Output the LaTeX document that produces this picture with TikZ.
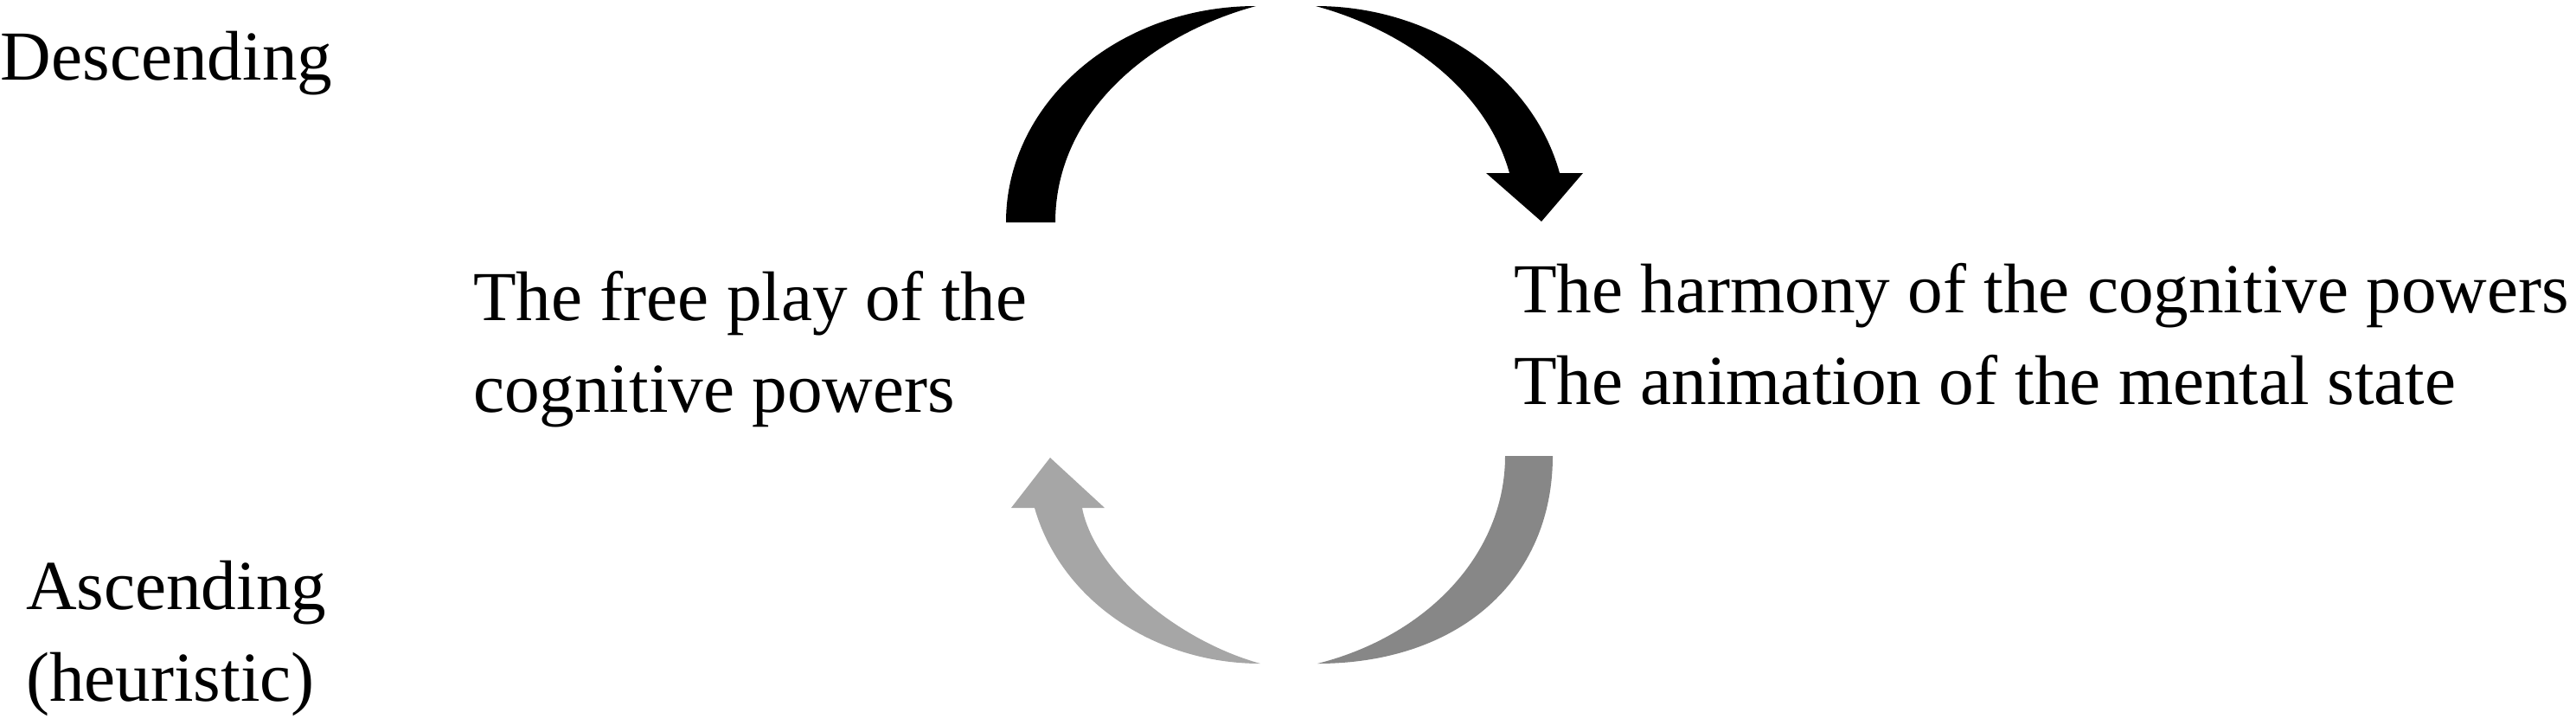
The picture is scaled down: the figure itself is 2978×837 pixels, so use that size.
\documentclass[tikz,border=0pt]{standalone}
\usepackage{fontspec}
\setmainfont{Liberation Serif}
\definecolor{darkgrey}{HTML}{878787}
\definecolor{lightgrey}{HTML}{A6A6A6}
\tikzset{
txt/.style = {inner sep=0pt, outer sep=0pt, anchor=base west, align=left,
  font=\fontsize{20.3pt}{26.5pt}\selectfont},
txt/.default = {}
}
\tikzset{blk/.style={fill=black}}
\tikzset{dg/.style={fill=darkgrey}}
\tikzset{lg/.style={fill=lightgrey}}

\begin{document}
\begin{tikzpicture}[x=0.25pt, y=-0.25pt]
  \useasboundingbox (0,0) rectangle (2978,837);
  % labels on the left (base = last line)
  \node [txt] (desc) at (1,92) {Descending};
  \node [txt] (asc) at (30,810) {Ascending\\(heuristic)};
  % the two states
  \node [txt] (free) at (547,476) {The free play of the\\cognitive powers};
  \node [txt] (harm) at (1750,467) {The harmony of the cognitive powers\\The animation of the mental state};
  % descending arrows
  \path [blk] (1163,257) .. controls (1163,119) and (1292,7) .. (1452,7)
     .. controls (1330,40) and (1220,130) .. (1220,257) -- cycle;
  \path [blk] (1521,7) .. controls (1655,7) and (1772,87) .. (1803,200)
     -- (1830,200) -- (1782,256) -- (1718,200) -- (1745,200)
     .. controls (1718,103) and (1624,35) .. (1521,7) -- cycle;
  % ascending arrows
  \path [dg] (1740,527) -- (1795,527)
     .. controls (1795,671) and (1686,767) .. (1523,767)
     .. controls (1650,735) and (1740,640) .. (1740,527) -- cycle;
  \path [lg] (1457,767) .. controls (1334,767) and (1226,693) .. (1196,587)
     -- (1169,587) -- (1214,529) -- (1277,587) -- (1251,587)
     .. controls (1265,660) and (1360,740) .. (1457,767) -- cycle;
\end{tikzpicture}
\end{document}
